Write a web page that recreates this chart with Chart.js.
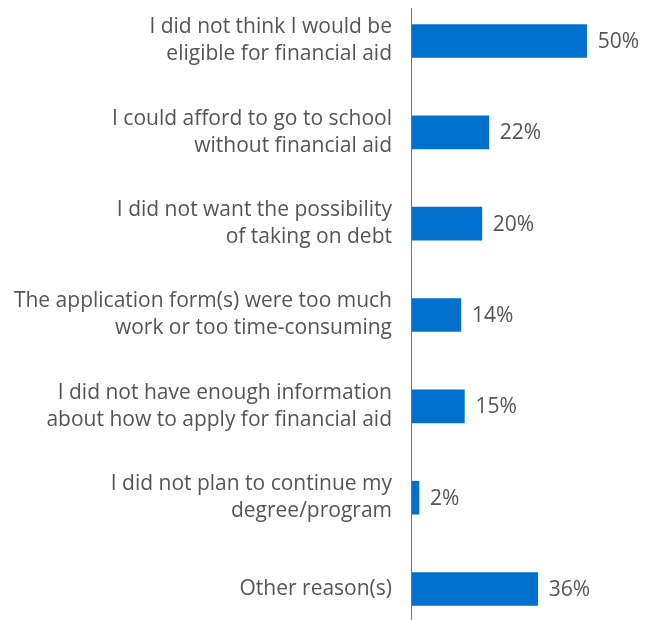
<!DOCTYPE html>
<html>
<head>
<meta charset="utf-8">
<script src="https://cdn.jsdelivr.net/npm/chart.js@4/dist/chart.umd.min.js"></script>
<style>
  html, body { margin: 0; padding: 0; background: #fff; }
  #wrap { width: 649px; height: 620px; }
</style>
</head>
<body>
<div id="wrap"><canvas id="c" width="649" height="620"></canvas></div>
<script>
// Reasons for not applying for financial aid (% of respondents)
const reasons = [
  ["I did not think I would be", "eligible for financial aid"],
  ["I could afford to go to school", "without financial aid"],
  ["I did not want the possibility", "of taking on debt"],
  ["The application form(s) were too much", "work or too time-consuming"],
  ["I did not have enough information", "about how to apply for financial aid"],
  ["I did not plan to continue my", "degree/program"],
  ["Other reason(s)"]
];
const shares = [50, 22, 20, 14, 15, 2, 36];

const FONT = "'Open Sans', sans-serif";
const TEXT = "#555555";
const BAR = "#0070CD";

// Value labels at the end of each bar, plus the vertical baseline
const decorations = {
  id: "decorations",
  afterDatasetsDraw(chart) {
    const { ctx, chartArea } = chart;
    const meta = chart.getDatasetMeta(0);
    ctx.save();
    ctx.font = "21px " + FONT;
    ctx.fillStyle = TEXT;
    ctx.textAlign = "left";
    ctx.textBaseline = "middle";
    meta.data.forEach((bar, i) => {
      ctx.fillText(shares[i] + "%", bar.x + 11, bar.y + 1);
    });
    ctx.strokeStyle = "#6b7785";
    ctx.lineWidth = 1;
    ctx.beginPath();
    ctx.moveTo(chartArea.left - 0.5, 8);
    ctx.lineTo(chartArea.left - 0.5, chart.height);
    ctx.stroke();
    ctx.restore();
  }
};

new Chart(document.getElementById("c"), {
  type: "bar",
  data: {
    labels: reasons,
    datasets: [{
      data: shares,
      backgroundColor: BAR,
      borderWidth: 0,
      barThickness: 33,
      clip: false
    }]
  },
  options: {
    indexAxis: "y",
    responsive: false,
    animation: false,
    layout: { padding: { top: 41, bottom: 31, left: 0, right: 3 } },
    plugins: { legend: { display: false }, tooltip: { enabled: false } },
    scales: {
      x: {
        display: false,
        min: 0,
        max: 67
      },
      y: {
        offset: false,
        border: { display: false },
        grid: { display: false, drawTicks: false },
        ticks: {
          padding: 20,
          color: TEXT,
          font: { family: FONT, size: 21, lineHeight: 27 / 21 }
        },
        afterFit(scale) {
          scale.width = 412;
          scale.paddingTop = 0;
          scale.paddingBottom = 0;
        }
      }
    }
  },
  plugins: [decorations]
});
</script>
</body>
</html>
